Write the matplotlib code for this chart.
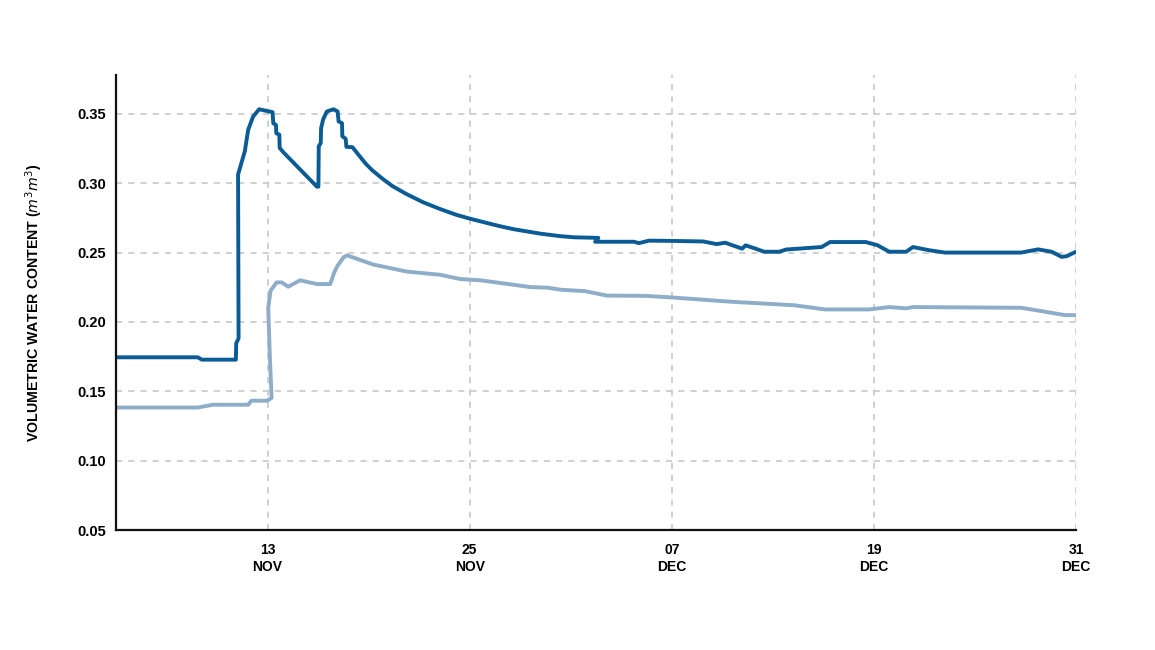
import pandas as pd
import matplotlib
matplotlib.use("Agg")
import matplotlib.pyplot as plt

plt.rcParams["font.family"] = ["Liberation Sans", "DejaVu Sans"]

# jours comptés depuis le 1er novembre (1 = 1 nov, 31 = 1 dec)
dark_day = [4.0, 8.86, 9.1, 11.12, 11.14, 11.28, 11.25, 11.65, 11.85, 12.14, 12.5,
            13.3, 13.34, 13.5, 13.52, 13.7, 13.72, 13.94, 15.93, 16.02, 16.04,
            16.16, 16.18, 16.3, 16.52, 16.92, 17.16, 17.22, 17.42, 17.44, 17.64,
            17.68, 18.04, 18.44, 18.84, 19.24, 19.84, 20.43, 21.23, 22.23, 23.22,
            24.21, 24.97, 26.0, 26.8, 27.63, 29.22, 30.4, 31.21, 32.64, 32.45,
            34.75, 35.05, 35.65, 37.06, 38.87, 39.67, 40.17, 41.18, 41.38, 41.98,
            42.48, 43.39, 43.79, 45.90, 46.40, 48.51, 49.21, 49.91, 50.92, 51.32,
            52.32, 53.22, 57.74, 58.75, 59.55, 60.15, 60.45, 61.0]
dark_val = [0.1745, 0.1745, 0.1728, 0.1728, 0.1846, 0.1882, 0.3063, 0.3230, 0.3385,
            0.3480, 0.3533, 0.3512, 0.3433, 0.3420, 0.3360, 0.3350, 0.3254, 0.3223,
            0.2975, 0.2975, 0.3266, 0.3290, 0.3397, 0.3460, 0.3517, 0.3533, 0.3517,
            0.3445, 0.3433, 0.3338, 0.3320, 0.3262, 0.3260, 0.3199, 0.3139, 0.3091,
            0.3031, 0.2978, 0.2923, 0.2863, 0.2815, 0.2772, 0.2746, 0.2714, 0.2690,
            0.2668, 0.2636, 0.2618, 0.2610, 0.2606, 0.2578, 0.2578, 0.2568, 0.2586,
            0.2584, 0.2580, 0.2561, 0.2571, 0.2528, 0.2552, 0.2528, 0.2506, 0.2506,
            0.2522, 0.2540, 0.2576, 0.2576, 0.2553, 0.2506, 0.2506, 0.2540, 0.2516,
            0.2500, 0.2500, 0.2523, 0.2506, 0.2469, 0.2474, 0.2506]

light_day = [4.0, 8.86, 9.76, 11.85, 12.04, 12.98, 13.24, 13.14, 13.04, 13.18, 13.54,
             13.84, 14.23, 14.93, 15.93, 16.72, 16.96, 17.16, 17.52, 17.72, 19.27,
             21.26, 23.25, 24.44, 25.64, 27.23, 28.63, 29.62, 30.43, 31.84, 33.14,
             35.45, 37.06, 40.47, 44.29, 46.10, 48.71, 49.91, 50.92, 51.32, 57.74,
             58.95, 60.35, 61.0]
light_val = [0.1383, 0.1383, 0.1403, 0.1403, 0.1432, 0.1432, 0.1452, 0.1742, 0.2104,
             0.2225, 0.2285, 0.2285, 0.2254, 0.2300, 0.2273, 0.2273, 0.2357, 0.2406,
             0.2466, 0.2480, 0.2414, 0.2363, 0.2340, 0.2309, 0.2300, 0.2274, 0.2251,
             0.2247, 0.2232, 0.2222, 0.2190, 0.2188, 0.2176, 0.2146, 0.2120, 0.2090,
             0.2090, 0.2107, 0.2098, 0.2107, 0.2102, 0.2078, 0.2049, 0.2049]

tick_dates = ["2023-11-13", "2023-11-25", "2023-12-07", "2023-12-19", "2023-12-31"]
tick_labels = ["13\nNOV", "25\nNOV", "07\nDEC", "19\nDEC", "31\nDEC"]
y_ticks = [0.05, 0.10, 0.15, 0.20, 0.25, 0.30, 0.35]

base = pd.Timestamp("2023-11-01")


def to_dates(days):
    return [base + pd.Timedelta(days=d - 1) for d in days]


fig = plt.figure(figsize=(11.55, 6.5), dpi=100)
ax = fig.add_axes([0.1004, 0.1846, 0.8312, 0.7])

ax.plot(to_dates(light_day), light_val, color="#8eadc9", linewidth=2.8)
ax.plot(to_dates(dark_day), dark_val, color="#0b5b95", linewidth=2.8)

ax.set_xlim(pd.Timestamp("2023-11-04"), pd.Timestamp("2023-12-31"))
ax.set_ylim(0.05, 0.378)

ax.set_xticks(pd.to_datetime(tick_dates))
ax.set_xticklabels(tick_labels, fontsize=10, fontweight="bold", linespacing=1.3)
ax.set_yticks(y_ticks)
ax.set_yticklabels([f"{v:.2f}" for v in y_ticks], fontsize=10.5, fontweight="bold")
ax.tick_params(axis="both", length=0)
ax.tick_params(axis="y", pad=7)
ax.tick_params(axis="x", pad=9)

ax.grid(True, color="#c4c4c4", linestyle=(0, (4, 4)), linewidth=1.1)
ax.set_axisbelow(True)

for s in ["top", "right"]:
    ax.spines[s].set_visible(False)
for s in ["left", "bottom"]:
    ax.spines[s].set_linewidth(1.6)
    ax.spines[s].set_color("#111111")

ax.set_ylabel(r"VOLUMETRIC WATER CONTENT ($\mathbf{\it{m^3m^3}}$)", fontsize=10.2,
              fontweight="bold")
ax.yaxis.set_label_coords(-0.074, 0.5)

fig.savefig("out.png", dpi=100)
